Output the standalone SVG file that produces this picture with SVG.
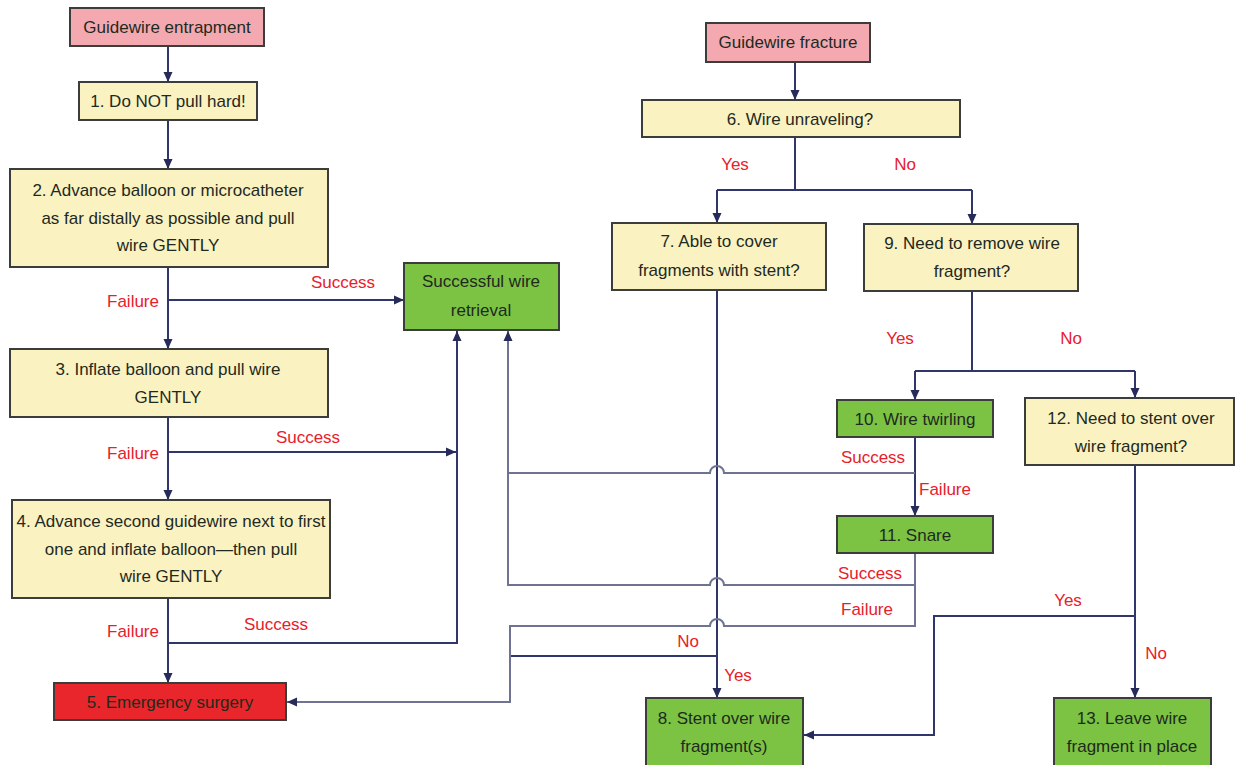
<svg xmlns="http://www.w3.org/2000/svg" width="1235" height="765" viewBox="0 0 1235 765">
<defs>
<marker id="arr" markerUnits="userSpaceOnUse" markerWidth="10" markerHeight="10" refX="10" refY="5" orient="auto">
<path d="M0,0.5 L10,5 L0,9.5 z" fill="#262b5c"/>
</marker>
<style>
.box{stroke:#3a3d3a;stroke-width:2}
.pink{fill:#f4a9b0}
.yel{fill:#fbf2c2}
.grn{fill:#7cc243}
.red{fill:#e8262b}
.t{font-family:"Liberation Sans",Arial,sans-serif;font-size:17px;fill:#1e2a1e;text-anchor:middle}
.l{font-family:"Liberation Sans",Arial,sans-serif;font-size:17px;fill:#e8202a;text-anchor:middle}
.c{fill:none;stroke:#30356a;stroke-width:2}
.g{fill:none;stroke:#6f7393;stroke-width:2}
</style>
</defs>
<rect width="1235" height="765" fill="#ffffff"/>

<g id="connectors">
<path class="c" d="M168,46 V82" marker-end="url(#arr)"/>
<path class="c" d="M168,120 V169" marker-end="url(#arr)"/>
<path class="c" d="M168,267 V349" marker-end="url(#arr)"/>
<path class="c" d="M168,300 H404" marker-end="url(#arr)"/>
<path class="c" d="M168,417 V500" marker-end="url(#arr)"/>
<path class="c" d="M168,452 H456" marker-end="url(#arr)"/>
<path class="c" d="M168,598 V683" marker-end="url(#arr)"/>
<path class="c" d="M168,643 H457 V331" marker-end="url(#arr)"/>
<path class="c" d="M795,62 V100" marker-end="url(#arr)"/>
<path class="c" d="M795,137 V190"/>
<path class="c" d="M717,190 H972"/>
<path class="c" d="M717,190 V223" marker-end="url(#arr)"/>
<path class="c" d="M972,190 V224" marker-end="url(#arr)"/>
<path class="c" d="M717,290 V698" marker-end="url(#arr)"/>
<path class="c" d="M717,656 H510"/>
<path class="g" d="M915,553 V626 H724 A7,7 0 0 0 710,626 H510 V702 H287" marker-end="url(#arr)"/>
<path class="g" d="M915,585 H724 A7,7 0 0 0 710,585 H508 V331" marker-end="url(#arr)"/>
<path class="c" d="M915,437 V516" marker-end="url(#arr)"/>
<path class="g" d="M915,473 H724 A7,7 0 0 0 710,473 H508"/>
<path class="c" d="M972,291 V371"/>
<path class="c" d="M915,371 H1135"/>
<path class="c" d="M915,371 V400" marker-end="url(#arr)"/>
<path class="c" d="M1135,371 V398" marker-end="url(#arr)"/>
<path class="c" d="M1135,465 V698" marker-end="url(#arr)"/>
<path class="c" d="M1135,616 H934 V735 H804" marker-end="url(#arr)"/>
</g>

<g id="labels">
<text class="l" x="343" y="288">Success</text>
<text class="l" x="133" y="307">Failure</text>
<text class="l" x="133" y="459">Failure</text>
<text class="l" x="308" y="443">Success</text>
<text class="l" x="133" y="637">Failure</text>
<text class="l" x="276" y="630">Success</text>
<text class="l" x="735" y="170">Yes</text>
<text class="l" x="905" y="170">No</text>
<text class="l" x="900" y="344">Yes</text>
<text class="l" x="1071" y="344">No</text>
<text class="l" x="873" y="463">Success</text>
<text class="l" x="945" y="495">Failure</text>
<text class="l" x="870" y="579">Success</text>
<text class="l" x="867" y="615">Failure</text>
<text class="l" x="688" y="647">No</text>
<text class="l" x="738" y="681">Yes</text>
<text class="l" x="1068" y="606">Yes</text>
<text class="l" x="1156" y="659">No</text>
</g>

<g id="n-entrapment"><rect class="box pink" x="70" y="8" width="194" height="38"/><text class="t" x="167" y="33">Guidewire entrapment</text></g>
<g id="n1"><rect class="box yel" x="79" y="82" width="178" height="38"/><text class="t" x="168" y="107">1. Do NOT pull hard!</text></g>
<g id="n2"><rect class="box yel" x="10" y="169" width="318" height="98"/><text class="t" x="168" y="196">2. Advance balloon or microcatheter</text><text class="t" x="168" y="224">as far distally as possible and pull</text><text class="t" x="168" y="251">wire GENTLY</text></g>
<g id="n-success"><rect class="box grn" x="404" y="263" width="155" height="67"/><text class="t" x="481" y="287">Successful wire</text><text class="t" x="481" y="316">retrieval</text></g>
<g id="n3"><rect class="box yel" x="10" y="349" width="318" height="68"/><text class="t" x="168" y="375">3. Inflate balloon and pull wire</text><text class="t" x="168" y="403">GENTLY</text></g>
<g id="n4"><rect class="box yel" x="12" y="500" width="318" height="98"/><text class="t" x="171" y="527">4. Advance second guidewire next to first</text><text class="t" x="171" y="555">one and inflate balloon—then pull</text><text class="t" x="171" y="582">wire GENTLY</text></g>
<g id="n5"><rect class="box red" x="54" y="683" width="232" height="37"/><text class="t" x="170" y="708">5. Emergency surgery</text></g>
<g id="n-fracture"><rect class="box pink" x="706" y="23" width="164" height="39"/><text class="t" x="788" y="48">Guidewire fracture</text></g>
<g id="n6"><rect class="box yel" x="642" y="100" width="318" height="37"/><text class="t" x="800" y="125">6. Wire unraveling?</text></g>
<g id="n7"><rect class="box yel" x="612" y="223" width="214" height="67"/><text class="t" x="719" y="247">7. Able to cover</text><text class="t" x="719" y="276">fragments with stent?</text></g>
<g id="n9"><rect class="box yel" x="864" y="224" width="214" height="67"/><text class="t" x="972" y="249">9. Need to remove wire</text><text class="t" x="972" y="277">fragment?</text></g>
<g id="n10"><rect class="box grn" x="837" y="400" width="156" height="37"/><text class="t" x="915" y="425">10. Wire twirling</text></g>
<g id="n12"><rect class="box yel" x="1025" y="398" width="209" height="67"/><text class="t" x="1131" y="424">12. Need to stent over</text><text class="t" x="1131" y="452">wire fragment?</text></g>
<g id="n11"><rect class="box grn" x="837" y="516" width="156" height="37"/><text class="t" x="915" y="541">11. Snare</text></g>
<g id="n8"><rect class="box grn" x="646" y="698" width="157" height="70"/><text class="t" x="724" y="724">8. Stent over wire</text><text class="t" x="724" y="752">fragment(s)</text></g>
<g id="n13"><rect class="box grn" x="1054" y="698" width="157" height="70"/><text class="t" x="1132" y="724">13. Leave wire</text><text class="t" x="1132" y="752">fragment in place</text></g>
</svg>
